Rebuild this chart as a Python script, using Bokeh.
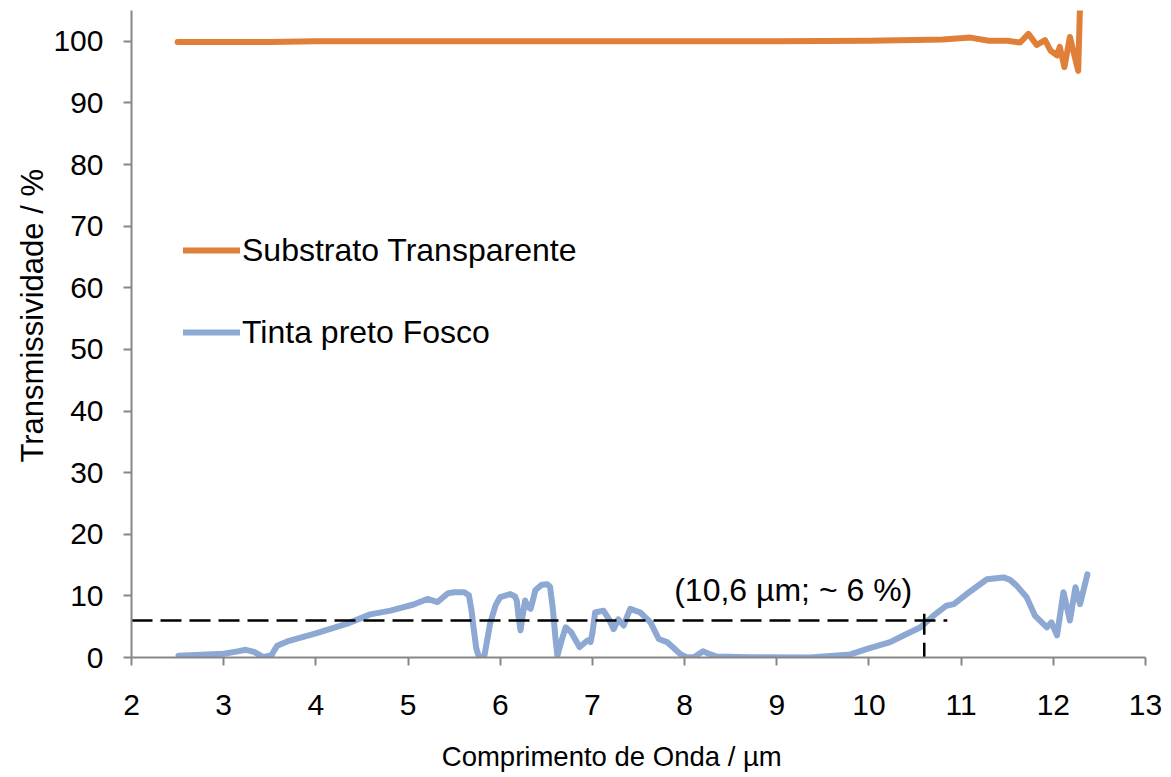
from bokeh.plotting import figure
from bokeh.models import FixedTicker, Legend, LegendItem, Title
from bokeh.core.properties import value
from bokeh.embed import file_html
from bokeh.resources import INLINE

# Wavelength (µm) and transmissivity (%) for the transparent substrate
substrate_wl = [2.5, 3.0, 3.5, 4.0, 4.5, 5.0, 6.0, 7.0, 8.0, 9.0, 10.0, 10.5, 10.8,
                11.1, 11.3, 11.5, 11.64, 11.73, 11.82, 11.91, 11.97, 12.04, 12.07,
                12.12, 12.18, 12.27, 12.29]
substrate_t = [99.9, 99.9, 99.9, 100.0, 100.0, 100.0, 100.0, 100.0, 100.0, 100.0,
               100.1, 100.2, 100.3, 100.6, 100.1, 100.1, 99.8, 101.2, 99.4, 100.2,
               98.5, 97.7, 99.1, 95.8, 100.7, 95.2, 106.0]

# Wavelength (µm) and transmissivity (%) for the matte black paint
paint_wl = [2.51, 3.0, 3.15, 3.24, 3.33, 3.43, 3.52, 3.55, 3.58, 3.69, 4.0, 4.34,
            4.59, 4.81, 5.06, 5.21, 5.32, 5.43, 5.5, 5.61, 5.66, 5.69, 5.71, 5.74,
            5.77, 5.80, 5.83, 5.89, 5.95, 6.0, 6.11, 6.16, 6.18, 6.20, 6.22, 6.24,
            6.27, 6.30, 6.33, 6.36, 6.38, 6.45, 6.51, 6.54, 6.57, 6.60, 6.62, 6.66,
            6.71, 6.77, 6.86, 6.95, 6.98, 7.0, 7.03, 7.12, 7.18, 7.23, 7.28, 7.34,
            7.38, 7.41, 7.52, 7.63, 7.72, 7.81, 7.95, 8.02, 8.10, 8.20, 8.28, 8.35,
            8.71, 9.36, 9.80, 9.98, 10.23, 10.38, 10.56, 10.70, 10.84, 10.92, 11.06,
            11.28, 11.46, 11.53, 11.60, 11.71, 11.80, 11.93, 11.98, 12.04, 12.11,
            12.18, 12.24, 12.29, 12.37]
paint_t = [0.3, 0.6, 1.0, 1.25, 0.9, 0.05, 0.4, 1.2, 1.9, 2.6, 3.9, 5.5, 7.0, 7.6,
           8.6, 9.5, 9.0, 10.4, 10.6, 10.6, 10.1, 7.5, 4.9, 1.5, 0.05, 0.0, 0.4,
           5.5, 8.5, 9.8, 10.3, 9.9, 9.2, 6.5, 4.4, 6.5, 9.25, 8.2, 7.9, 9.6, 10.9,
           11.8, 11.9, 11.5, 8.0, 3.0, 0.3, 2.5, 4.9, 4.1, 1.7, 2.8, 2.5, 4.0, 7.3,
           7.6, 6.2, 4.6, 6.2, 5.2, 6.8, 7.9, 7.3, 5.7, 3.0, 2.5, 0.6, 0.05, 0.05,
           1.0, 0.5, 0.15, 0.05, 0.0, 0.5, 1.4, 2.5, 3.6, 4.9, 6.8, 8.4, 8.66, 10.3,
           12.7, 13.0, 12.6, 11.7, 9.8, 6.8, 4.9, 5.7, 3.6, 10.6, 6.0, 11.4, 8.66,
           13.5]

series_names = ["Substrato Transparente", "Tinta preto Fosco"]
x_title = "Comprimento de Onda / µm"
y_title = "Transmissividade / %"
x_ticks = list(range(2, 14))
y_ticks = list(range(0, 101, 10))

# Highlighted CO2-laser wavelength point
mark_wl = 10.6
mark_t = 6.0
mark_label = "(10,6 µm; ~ 6 %)"

FONT = "Liberation Sans"
ORANGE = "#E07F38"
BLUE = "#8DA8D2"
AXIS_GRAY = "#878787"

p = figure(width=1171, height=777, output_backend="svg", toolbar_location=None,
           x_range=(2, 13), y_range=(0, 105),
           min_border_left=131, min_border_right=26, min_border_top=10,
           min_border_bottom=120)
p.outline_line_color = None
p.xgrid.visible = False
p.ygrid.visible = False
p.background_fill_color = "white"
p.border_fill_color = "white"

r_sub = p.line(substrate_wl, substrate_t, line_color=ORANGE, line_width=6,
               line_join="round", line_cap="round")
r_paint = p.line(paint_wl, paint_t, line_color=BLUE, line_width=6,
                 line_join="round", line_cap="round")

# Dashed guide lines to the highlighted point
p.line([2, 10.85], [mark_t, mark_t], line_color="black", line_width=2.5,
       line_dash="21 8")
p.line([mark_wl, mark_wl], [-1, 8.2], line_color="black", line_width=2.5,
       line_dash="21 8")
p.text(x=[mark_wl], y=[mark_t], text=[mark_label], text_align="right",
       text_baseline="alphabetic", x_offset=-12, y_offset=-31,
       text_font=value(FONT), text_font_size="32px", text_color="black")

for ax in (p.xaxis[0], p.yaxis[0]):
    ax.axis_line_color = AXIS_GRAY
    ax.axis_line_width = 2
    ax.major_tick_line_color = AXIS_GRAY
    ax.major_tick_line_width = 2
    ax.major_tick_out = 8
    ax.major_tick_in = 0
    ax.minor_tick_line_color = None
    ax.major_label_text_font = FONT
    ax.major_label_text_font_size = "30px"
    ax.major_label_text_color = "black"

p.xaxis.ticker = FixedTicker(ticks=x_ticks)
p.yaxis.ticker = FixedTicker(ticks=y_ticks)
p.xaxis.major_label_standoff = 29
p.yaxis.major_label_standoff = 20

# x title sits a little left of the frame centre: trailing no-break spaces
# widen the centred box so the visible text shifts left
p.xaxis.axis_label = x_title + "\u00a0" * 7
p.xaxis.axis_label_text_font = FONT
p.xaxis.axis_label_text_font_size = "27.5px"
p.xaxis.axis_label_text_font_style = "normal"
p.xaxis.axis_label_text_color = "black"
p.xaxis.axis_label_standoff = 23

# y title, set slightly above the frame centre
y_lab = Title(text=y_title, align="left", offset=195, vertical_align="middle",
              standoff=0, text_font=FONT, text_font_size="31px",
              text_font_style="normal", text_color="black")
p.add_layout(y_lab, "left")

legend = Legend(items=[LegendItem(label=series_names[0], renderers=[r_sub]),
                       LegendItem(label=series_names[1], renderers=[r_paint])],
                location=(52, 305), orientation="vertical",
                glyph_width=57, glyph_height=40, label_height=40, spacing=42,
                padding=0, margin=0, label_standoff=2,
                label_text_font=FONT, label_text_font_size="32px",
                label_text_color="black",
                border_line_color=None, background_fill_alpha=0)
p.add_layout(legend)

open("out.html", "w").write(file_html(p, INLINE))
